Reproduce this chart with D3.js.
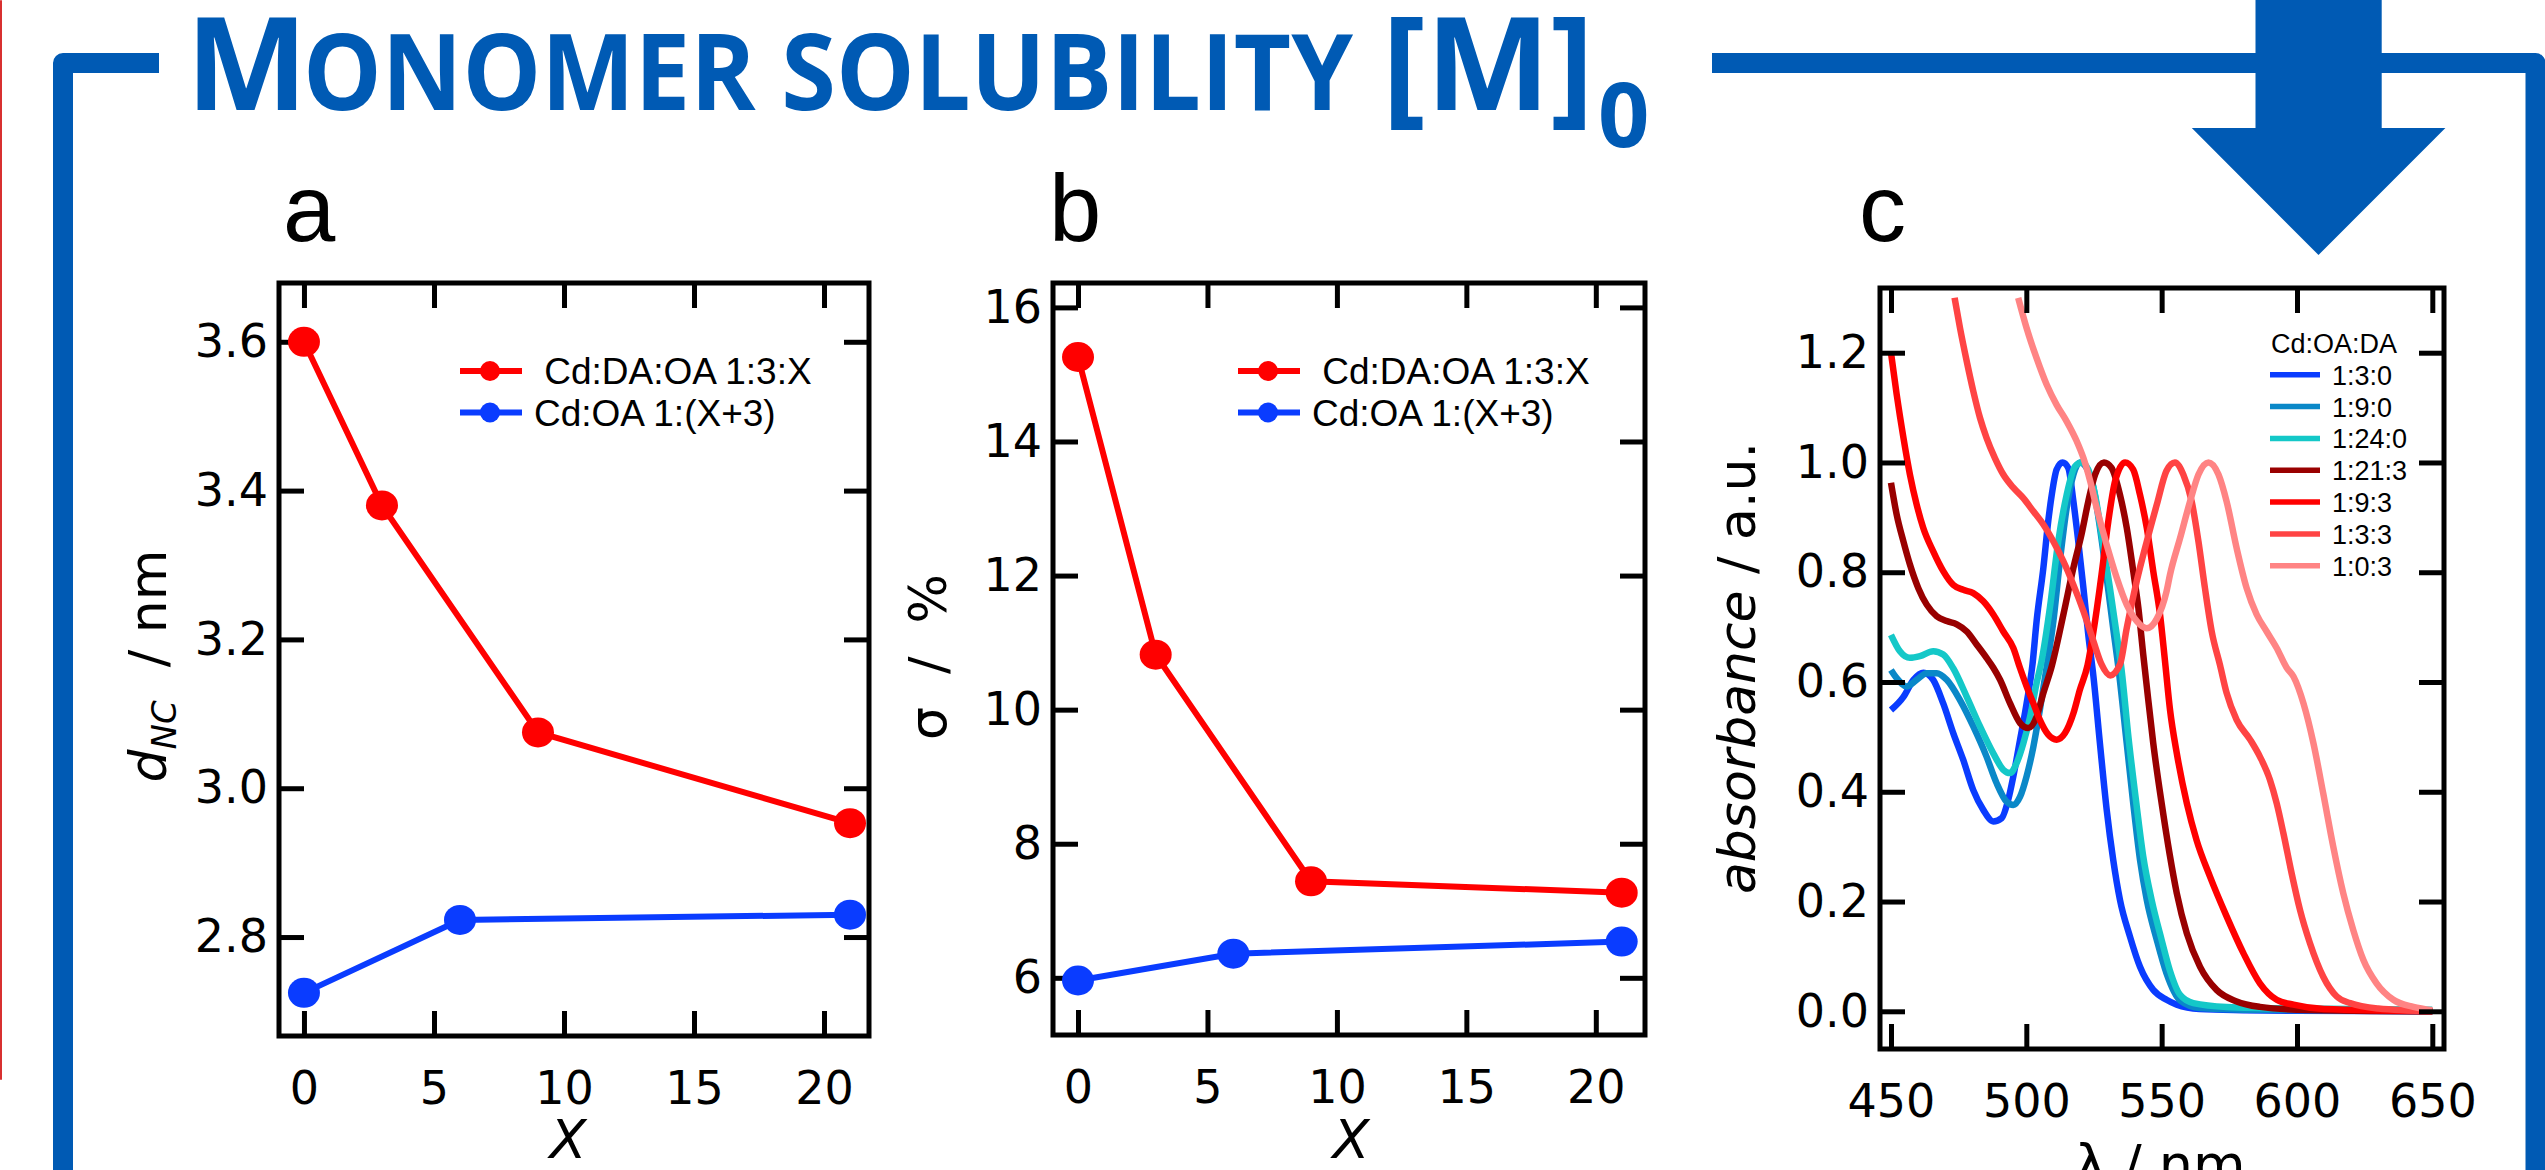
<!DOCTYPE html>
<html>
<head>
<meta charset="utf-8">
<script src="https://cdn.jsdelivr.net/npm/d3@7"></script>
<style>
  body { margin: 0; background: #fff; }
  svg { display: block; }
  text { white-space: pre; }
</style>
</head>
<body>
<div id="chart"></div>
<script>
// ---- data ----
var xDA = [0, 3, 9, 21];
var dDA = [3.60, 3.38, 3.075, 2.953];
var sigmaDA = [15.26, 10.82, 7.44, 7.27];
var xOA = [0, 6, 21];
var dOA = [2.725, 2.823, 2.830];
var sigmaOA = [5.96, 6.36, 6.54];
var seriesNames = [" Cd:DA:OA 1:3:X", "Cd:OA 1:(X+3)"];
var seriesColors = ["#ff0000", "#0a3cff"];

var ticksX = [0, 5, 10, 15, 20];
var ticksDnc = [2.8, 3.0, 3.2, 3.4, 3.6];
var ticksSigma = [6, 8, 10, 12, 14, 16];
var ticksLambda = [450, 500, 550, 600, 650];
var ticksAbs = [0, 0.2, 0.4, 0.6, 0.8, 1.0, 1.2];

var specNames = ["1:3:0", "1:9:0", "1:24:0", "1:21:3", "1:9:3", "1:3:3", "1:0:3"];
var specColors = ["#0a3cff", "#0a88c8", "#14c8c8", "#990000", "#ff0000", "#ff4444", "#ff8484"];

// [wavelength nm, absorbance]
var spec130 = [[450,0.549],[454.6,0.573],[458.3,0.604],[462,0.617],[465.6,0.604],[469.3,0.561],[473,0.507],[476.7,0.458],[480.4,0.403],[484.1,0.367],[487.8,0.346],[490.9,0.352],[493.3,0.385],[495.2,0.428],[497.7,0.495],[500.1,0.561],[502.3,0.633],[503.8,0.711],[506.3,0.808],[508.1,0.893],[509.4,0.941],[511.2,0.987],[513.4,1.0],[515.5,0.99],[517.4,0.929],[519.2,0.856],[521.1,0.771],[522.9,0.686],[524.8,0.61],[527.2,0.488],[529.7,0.367],[532.1,0.276],[534.6,0.203],[538.3,0.136],[542,0.081],[546.9,0.039],[551.8,0.021],[555.6,0.012],[564,0.004],[580,0.002],[600,0.001],[650,0.0]];
var spec190 = [[450,0.622],[452.1,0.607],[455.8,0.592],[459.5,0.604],[463.2,0.616],[466.9,0.616],[470.6,0.604],[475.5,0.567],[480.4,0.519],[485.3,0.464],[489,0.416],[492.7,0.382],[495.2,0.376],[497.7,0.391],[500.1,0.428],[502.6,0.482],[505,0.549],[507.5,0.627],[510,0.711],[512.4,0.82],[514.9,0.917],[517.4,0.978],[519.8,1.0],[522.3,0.99],[524.8,0.954],[527.2,0.881],[529.7,0.79],[532.1,0.698],[534,0.627],[537.1,0.488],[539.5,0.379],[542,0.276],[544.5,0.203],[548.2,0.13],[551.8,0.069],[556.8,0.02],[564.2,0.006],[580,0.003],[650,0.0]];
var spec1240 = [[450,0.686],[453.3,0.656],[457,0.644],[460.7,0.647],[465.6,0.656],[469.3,0.65],[473,0.625],[478,0.573],[482.9,0.519],[487.8,0.47],[491.5,0.44],[494,0.434],[496.4,0.452],[498.9,0.488],[501.4,0.537],[503.8,0.598],[505.7,0.64],[508.7,0.735],[511.8,0.856],[514.9,0.941],[518,0.993],[520.4,1.0],[522.9,0.987],[525.4,0.941],[527.8,0.869],[530.9,0.771],[533.4,0.686],[535.2,0.622],[537.7,0.501],[540.8,0.373],[543.2,0.282],[546.3,0.203],[550,0.13],[553,0.075],[556.8,0.03],[561.7,0.015],[574,0.008],[600,0.005],[650,0.003]];
var spec1213 = [[450,0.963],[452.1,0.905],[454.6,0.856],[457,0.814],[460.1,0.771],[463.2,0.741],[466.9,0.72],[470.6,0.711],[474.3,0.705],[478,0.692],[481.7,0.668],[485.3,0.644],[487.8,0.626],[490.3,0.604],[494,0.561],[497.7,0.525],[500.7,0.516],[503.8,0.537],[506.3,0.58],[509.3,0.627],[513.7,0.723],[517.4,0.808],[520.4,0.869],[522.9,0.929],[525.4,0.978],[528.7,1.0],[531.5,0.99],[534.6,0.941],[537.1,0.881],[539.5,0.802],[541.4,0.735],[543.2,0.65],[544.5,0.592],[546.9,0.488],[550,0.379],[553,0.285],[555.6,0.215],[559.3,0.142],[564.2,0.081],[570.3,0.039],[577.7,0.018],[586.3,0.008],[600,0.003],[650,0.0]];
var spec193 = [[450,1.2],[452.1,1.124],[454.6,1.045],[457,0.978],[459.5,0.923],[461.9,0.881],[465.6,0.838],[469.3,0.802],[473,0.777],[476.7,0.768],[480.4,0.762],[484.1,0.747],[487.8,0.723],[491.5,0.692],[495.2,0.662],[497.7,0.625],[500.1,0.592],[502.6,0.561],[505,0.531],[508.1,0.504],[511.2,0.495],[514.3,0.507],[517.4,0.543],[519.8,0.586],[522.6,0.63],[525.4,0.711],[527.8,0.796],[530.3,0.893],[532.8,0.966],[536.5,1.0],[539.5,0.987],[542,0.941],[544.5,0.881],[546.9,0.802],[549.4,0.723],[551.2,0.64],[553.1,0.549],[555.6,0.47],[559.3,0.379],[562.9,0.312],[567.9,0.245],[574,0.173],[580.2,0.106],[586.3,0.051],[592.5,0.021],[598.7,0.012],[610,0.004],[650,0.0]];
var spec133 = [[473.5,1.30],[475.5,1.245],[478,1.184],[480.4,1.13],[482.9,1.081],[485.3,1.045],[488.4,1.008],[491.5,0.978],[495.2,0.954],[498.9,0.935],[502.6,0.911],[506.3,0.887],[510,0.856],[513.7,0.82],[517.4,0.777],[521.1,0.729],[524.8,0.674],[527.8,0.632],[531,0.612],[534.6,0.632],[537.1,0.698],[540.8,0.784],[544.5,0.856],[548.2,0.923],[551.8,0.985],[554.9,1.0],[558,0.978],[561.1,0.929],[563.6,0.856],[566,0.771],[568.5,0.692],[571.6,0.63],[574,0.58],[577.7,0.531],[582.7,0.495],[586.3,0.464],[590,0.422],[592.5,0.379],[595,0.324],[598,0.252],[601.1,0.185],[604.8,0.124],[609.7,0.063],[614.7,0.027],[619.6,0.015],[630,0.005],[650,0.0]];
var spec103 = [[497,1.30],[500.1,1.245],[503.8,1.19],[507.5,1.142],[511.2,1.105],[514.9,1.075],[518.6,1.039],[521.1,1.008],[523.6,0.966],[526,0.917],[529.7,0.85],[533.4,0.79],[537.1,0.741],[540.8,0.711],[544.5,0.698],[548.2,0.715],[551.8,0.765],[553.1,0.796],[556.8,0.862],[560.5,0.929],[563.6,0.978],[567.3,1.0],[571,0.978],[574,0.929],[577.7,0.844],[581.4,0.771],[585.1,0.723],[588.8,0.692],[592.5,0.662],[596.2,0.626],[598.7,0.61],[602.4,0.561],[606.1,0.488],[609.7,0.397],[613.4,0.3],[617.1,0.215],[620.8,0.148],[624.5,0.094],[629.4,0.051],[635.6,0.021],[643,0.008],[650,0.002]];
var spectra = [spec130, spec190, spec1240, spec1213, spec193, spec133, spec103];

// ---- page ----
var W = 2545, H = 1170;
var blue = "#005ab4";
var svg = d3.select("#chart").append("svg").attr("width", W).attr("height", H);

// thin red edge left over from the neighbouring figure
svg.append("rect").attr("x", 0).attr("y", 0).attr("width", 2).attr("height", 1080).attr("rx", 1).attr("fill", "#d83030");

// blue bracket frame
svg.append("path").attr("d", "M63,1180 L63,63 L159,63").attr("fill", "none")
    .attr("stroke", blue).attr("stroke-width", 20).attr("stroke-linejoin", "round");
svg.append("path").attr("d", "M1712,63 L2535.5,63 L2535.5,1180").attr("fill", "none")
    .attr("stroke", blue).attr("stroke-width", 20).attr("stroke-linejoin", "round");
svg.append("polygon")
    .attr("points", "2255.5,0 2381.7,0 2381.7,128 2445.4,128 2318.5,255 2191.8,128 2255.5,128")
    .attr("fill", blue);

// heading
var head = svg.append("g").attr("fill", blue).attr("font-family", "Open Sans").attr("font-weight", 700);
head.append("text").attr("x", 186).attr("y", 110).attr("font-size", 129).text("M");
head.append("text").attr("x", 303).attr("y", 110).attr("font-size", 105)
    .attr("textLength", 1050).attr("lengthAdjust", "spacingAndGlyphs").text("ONOMER SOLUBILITY");
head.append("text").attr("x", 1382).attr("y", 110).attr("font-size", 129)
    .attr("textLength", 212).attr("lengthAdjust", "spacingAndGlyphs").text("[M]");
head.append("text").attr("x", 1598).attr("y", 147).attr("font-size", 90).text("0");

// panel letters
var letters = [["a", 283], ["b", 1049], ["c", 1859]];
svg.selectAll(".letter").data(letters).enter().append("text")
    .attr("class", "letter")
    .attr("x", function(d) { return d[1]; })
    .attr("y", 241)
    .attr("font-family", "Liberation Sans").attr("font-size", 94).attr("fill", "#000")
    .text(function(d) { return d[0]; });

function drawAxes(g, x, y, box, xt, yt, fx, fy) {
    g.append("g").attr("class", "axis").attr("transform", "translate(0," + box.bottom + ")")
        .call(d3.axisBottom(x).tickValues(xt).tickSizeInner(-25).tickSizeOuter(0).tickPadding(35).tickFormat(fx));
    g.append("g").attr("class", "axis").attr("transform", "translate(0," + box.top + ")")
        .call(d3.axisTop(x).tickValues(xt).tickSizeInner(-25).tickSizeOuter(0).tickFormat(""));
    g.append("g").attr("class", "axis").attr("transform", "translate(" + box.left + ",0)")
        .call(d3.axisLeft(y).tickValues(yt).tickSizeInner(-25).tickSizeOuter(0).tickPadding(11).tickFormat(fy));
    g.append("g").attr("class", "axis").attr("transform", "translate(" + box.right + ",0)")
        .call(d3.axisRight(y).tickValues(yt).tickSizeInner(-25).tickSizeOuter(0).tickFormat(""));
    g.selectAll(".axis .domain").remove();
    g.selectAll(".axis line").attr("stroke", "#000").attr("stroke-width", 5);
    g.selectAll(".axis text").attr("font-family", "DejaVu Sans").attr("font-size", 46).attr("fill", "#000");
    g.append("rect")
        .attr("x", box.left).attr("y", box.top)
        .attr("width", box.right - box.left).attr("height", box.bottom - box.top)
        .attr("fill", "none").attr("stroke", "#000").attr("stroke-width", 5);
}

function drawScatter(box, xd, yd, yt, fy, ys, legX, textX) {
    var g = svg.append("g");
    var x = d3.scaleLinear().domain(xd).range([box.left, box.right]);
    var y = d3.scaleLinear().domain(yd).range([box.bottom, box.top]);
    drawAxes(g, x, y, box, ticksX, yt, d3.format("d"), fy);

    var line = d3.line().x(function(d) { return x(d[0]); }).y(function(d) { return y(d[1]); });
    var sets = [d3.zip(xDA, ys[0]), d3.zip(xOA, ys[1])];
    sets.forEach(function(pts, i) {
        g.append("path").datum(pts).attr("d", line).attr("fill", "none")
            .attr("stroke", seriesColors[i]).attr("stroke-width", 6);
        g.selectAll(".pt" + i).data(pts).enter().append("ellipse")
            .attr("cx", function(d) { return x(d[0]); })
            .attr("cy", function(d) { return y(d[1]); })
            .attr("rx", 16).attr("ry", 15)
            .attr("fill", seriesColors[i]);
        // legend
        var ly = 371 + i * 41.5;
        g.append("line").attr("x1", legX).attr("x2", legX + 62).attr("y1", ly).attr("y2", ly)
            .attr("stroke", seriesColors[i]).attr("stroke-width", 6);
        g.append("circle").attr("cx", legX + 30).attr("cy", ly).attr("r", 10).attr("fill", seriesColors[i]);
        g.append("text").attr("x", textX).attr("y", ly + 13)
            .attr("font-family", "Liberation Sans").attr("font-size", 37).attr("fill", "#000")
            .text(seriesNames[i]);
    });
    return g;
}

// panel a
var ga = drawScatter({left: 279, right: 869, top: 283, bottom: 1036}, [-0.96, 21.73], [2.667, 3.679],
    ticksDnc, d3.format(".1f"), [dDA, dOA], 460, 534);
var ta = ga.append("text").attr("transform", "translate(166,666) rotate(-90)")
    .attr("text-anchor", "middle").attr("font-family", "DejaVu Sans").attr("font-size", 52).attr("fill", "#000");
ta.append("tspan").attr("font-style", "italic").text("d");
ta.append("tspan").attr("font-style", "italic").attr("font-size", 34).attr("dy", 10).text("NC");
ta.append("tspan").attr("dy", -10).text("  / nm");
ga.append("text").attr("x", 568).attr("y", 1158).attr("text-anchor", "middle")
    .attr("font-family", "DejaVu Sans").attr("font-style", "italic").attr("font-size", 54).text("X");

// panel b
var gb = drawScatter({left: 1053, right: 1645, top: 283, bottom: 1035}, [-0.966, 21.9], [5.147, 16.364],
    ticksSigma, d3.format("d"), [sigmaDA, sigmaOA], 1238, 1312);
gb.append("text").attr("transform", "translate(946,657) rotate(-90)")
    .attr("text-anchor", "middle").attr("font-family", "DejaVu Sans").attr("font-size", 52).attr("fill", "#000")
    .text("σ  /  %");
gb.append("text").attr("x", 1351).attr("y", 1158).attr("text-anchor", "middle")
    .attr("font-family", "DejaVu Sans").attr("font-style", "italic").attr("font-size", 54).text("X");

// panel c
var boxC = {left: 1880, right: 2444, top: 288, bottom: 1049};
var gc = svg.append("g");
var xc = d3.scaleLinear().domain([445.94, 654.32]).range([boxC.left, boxC.right]);
var yc = d3.scaleLinear().domain([-0.0687, 1.3179]).range([boxC.bottom, boxC.top]);

gc.append("clipPath").attr("id", "clipc").append("rect")
    .attr("x", boxC.left).attr("y", boxC.top)
    .attr("width", boxC.right - boxC.left).attr("height", boxC.bottom - boxC.top);

var specLine = d3.line().curve(d3.curveMonotoneX)
    .x(function(d) { return xc(d[0]); })
    .y(function(d) { return yc(d[1]); });

gc.append("g").attr("clip-path", "url(#clipc)")
    .selectAll("path").data(spectra).enter().append("path")
    .attr("d", specLine)
    .attr("fill", "none")
    .attr("stroke", function(d, i) { return specColors[i]; })
    .attr("stroke-width", 6.5)
    .attr("stroke-linejoin", "round");

drawAxes(gc, xc, yc, boxC, ticksLambda, ticksAbs, d3.format("d"), d3.format(".1f"));

var lg = gc.append("g").attr("font-family", "Liberation Sans").attr("font-size", 27).attr("fill", "#000");
lg.append("text").attr("x", 2271).attr("y", 353).text("Cd:OA:DA");
specNames.forEach(function(name, i) {
    var ly = 374.7 + i * 31.85;
    lg.append("line").attr("x1", 2270).attr("x2", 2320).attr("y1", ly).attr("y2", ly)
        .attr("stroke", specColors[i]).attr("stroke-width", 5.5);
    lg.append("text").attr("x", 2332).attr("y", ly + 10).text(name);
});

var tc = gc.append("text").attr("transform", "translate(1755,668) rotate(-90)")
    .attr("text-anchor", "middle").attr("font-family", "DejaVu Sans").attr("font-size", 52).attr("fill", "#000");
tc.append("tspan").attr("font-style", "italic").text("absorbance");
tc.append("tspan").text(" / a.u.");
gc.append("text").attr("x", 2160).attr("y", 1183).attr("text-anchor", "middle")
    .attr("font-family", "DejaVu Sans").attr("font-size", 54).text("λ / nm");
</script>
</body>
</html>
